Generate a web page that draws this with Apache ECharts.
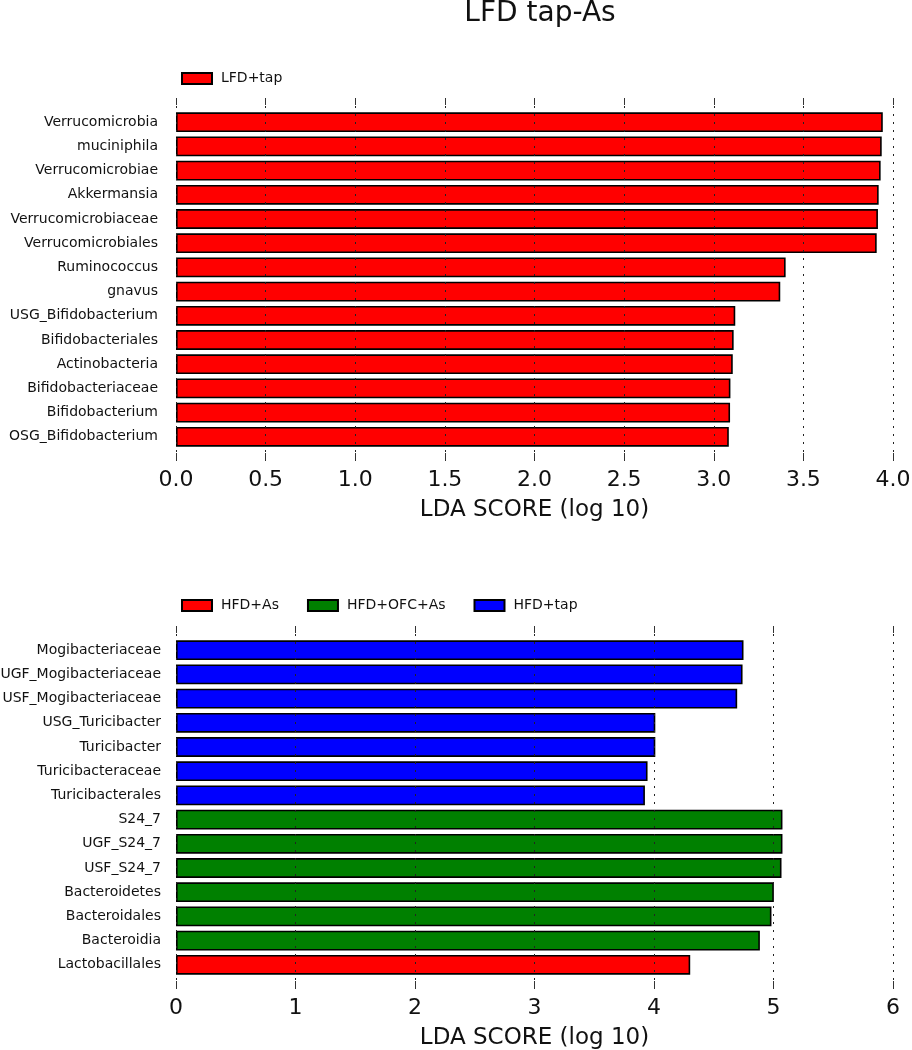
<!DOCTYPE html>
<html>
<head>
<meta charset="utf-8">
<script src="https://cdn.jsdelivr.net/npm/echarts@6/dist/echarts.min.js"></script>
<style>html,body{margin:0;padding:0;background:#fff}#c{width:912px;height:1050px}</style>
</head>
<body>
<div id="c"></div>
<script>
const titleText = 'LFD tap-As';
const axisName = 'LDA SCORE (log 10)';

const topLabels = ['Verrucomicrobia','muciniphila','Verrucomicrobiae','Akkermansia','Verrucomicrobiaceae','Verrucomicrobiales','Ruminococcus','gnavus','USG_Bifidobacterium','Bifidobacteriales','Actinobacteria','Bifidobacteriaceae','Bifidobacterium','OSG_Bifidobacterium'];
const topValues = [3.943,3.937,3.931,3.920,3.916,3.909,3.401,3.371,3.120,3.111,3.106,3.093,3.091,3.084];
const topGroup = 'LFD+tap';
const topTicks = [0,0.5,1,1.5,2,2.5,3,3.5,4];

const bottomLabels = ['Mogibacteriaceae','UGF_Mogibacteriaceae','USF_Mogibacteriaceae','USG_Turicibacter','Turicibacter','Turicibacteraceae','Turicibacterales','S24_7','UGF_S24_7','USF_S24_7','Bacteroidetes','Bacteroidales','Bacteroidia','Lactobacillales'];
const bottomValues = [4.749,4.741,4.696,4.011,4.011,3.946,3.924,5.075,5.075,5.067,5.003,4.983,4.886,4.303];
const bottomGroupOf = ['HFD+tap','HFD+tap','HFD+tap','HFD+tap','HFD+tap','HFD+tap','HFD+tap','HFD+OFC+As','HFD+OFC+As','HFD+OFC+As','HFD+OFC+As','HFD+OFC+As','HFD+OFC+As','HFD+As'];
const bottomGroups = ['HFD+As','HFD+OFC+As','HFD+tap'];
const bottomTicks = [0,1,2,3,4,5,6];

const groupColors = {'LFD+tap':'#ff0000','HFD+As':'#ff0000','HFD+OFC+As':'#008000','HFD+tap':'#0000ff'};

const FONT = 'DejaVu Sans';
const chart = echarts.init(document.getElementById('c'), null, {renderer:'canvas'});

const L = 176, W = 717;
const frames = [{top:98,height:363},{top:626,height:363}];
const slot = 363/15;

function frameAxes(gridIndex, max, interval, fmt) {
  return [
    {type:'value', gridIndex, position:'bottom', min:0, max, interval, z:10,
     axisLine:{show:false},
     axisTick:{show:true, inside:true, length:8, lineStyle:{color:'#333', width:1}},
     axisLabel:{show:true, margin:8, fontSize:22, fontFamily:FONT, color:'#111', formatter:fmt},
     splitLine:{show:true, lineStyle:{color:'#222', width:1, type:[2,6]}},
     name:axisName, nameLocation:'middle', nameGap:38,
     nameTextStyle:{fontSize:23, fontFamily:FONT, color:'#111'}},
    {type:'value', gridIndex, position:'top', min:0, max, interval, z:10,
     axisLine:{show:false},
     axisTick:{show:true, inside:true, length:7, lineStyle:{color:'#333', width:1}},
     axisLabel:{show:false}, splitLine:{show:false}}
  ];
}

const barItem = (c) => ({color:c, borderColor:'#000', borderWidth:1.6});
const gridBase = {left:L, width:W, containLabel:false, outerBoundsMode:'none'};

const option = {
  animation:false,
  backgroundColor:'#fff',
  title:{text:titleText, left:535, textAlign:'center', top:-5,
    textStyle:{fontSize:28, fontWeight:'normal', fontFamily:FONT, color:'#111'}},
  legend:[
    {data:[topGroup], left:176, top:66.5, icon:'rect', itemWidth:30, itemHeight:11, itemGap:28,
     textStyle:{fontSize:14, fontFamily:FONT, color:'#111', padding:[0,0,0,4]}},
    {data:bottomGroups, left:176, top:593.5, icon:'rect', itemWidth:30, itemHeight:11, itemGap:28,
     textStyle:{fontSize:14, fontFamily:FONT, color:'#111', padding:[0,0,0,4]}}
  ],
  grid:[
    {...gridBase, top:frames[0].top, height:frames[0].height},
    {...gridBase, top:frames[0].top+slot/2, height:frames[0].height-slot},
    {...gridBase, top:frames[1].top, height:frames[1].height},
    {...gridBase, top:frames[1].top+slot/2, height:frames[1].height-slot}
  ],
  xAxis:[
    ...frameAxes(0, 4, 0.5, v => v.toFixed(1)),
    {type:'value', gridIndex:1, min:0, max:4, show:false},
    ...frameAxes(2, 6, 1, v => String(v)),
    {type:'value', gridIndex:3, min:0, max:6, show:false}
  ],
  yAxis:[
    {type:'value', gridIndex:0, min:0, max:1, show:false},
    {type:'category', gridIndex:1, inverse:true, data:topLabels,
     axisLine:{show:false}, axisTick:{show:false}, splitLine:{show:false},
     axisLabel:{fontSize:14, fontFamily:FONT, color:'#111', margin:18}},
    {type:'value', gridIndex:2, min:0, max:1, show:false},
    {type:'category', gridIndex:3, inverse:true, data:bottomLabels,
     axisLine:{show:false}, axisTick:{show:false}, splitLine:{show:false},
     axisLabel:{fontSize:14, fontFamily:FONT, color:'#111', margin:15}}
  ],
  series:[
    {name:topGroup, type:'bar', xAxisIndex:2, yAxisIndex:1, data:topValues,
     barCategoryGap:'18%', itemStyle:barItem(groupColors[topGroup])},
    ...bottomGroups.map(g => ({
      name:g, type:'bar', xAxisIndex:5, yAxisIndex:3, barGap:'-100%', barCategoryGap:'18%',
      data:bottomValues.map((v,i) => bottomGroupOf[i] === g ? v : '-'),
      itemStyle:barItem(groupColors[g])
    }))
  ]
};
chart.setOption(option);
</script>
</body>
</html>
